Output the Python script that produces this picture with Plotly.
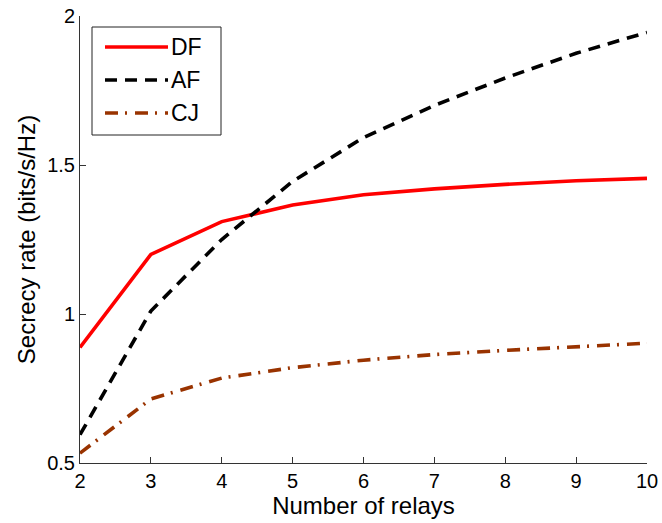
import plotly.graph_objects as go

relays = [2, 3, 4, 5, 6, 7, 8, 9, 10]
df_rate = [0.888, 1.200, 1.310, 1.366, 1.400, 1.420, 1.435, 1.447, 1.455]
af_rate = [0.595, 1.010, 1.250, 1.445, 1.592, 1.700, 1.792, 1.875, 1.945]
cj_rate = [0.533, 0.715, 0.785, 0.820, 0.845, 0.864, 0.878, 0.890, 0.902]

series_names = ["DF", "AF", "CJ"]
x_ticks = [2, 3, 4, 5, 6, 7, 8, 9, 10]
y_ticks = [0.5, 1, 1.5, 2]
y_tick_labels = ["0.5", "1", "1.5", "2"]

colors = ["#ff0000", "#000000", "#993300"]
dashes = ["solid", "12px,8px", "13px,7px,2px,8px"]

FONT = "Liberation Sans, Arial, Helvetica, sans-serif"
LW = 3.6

fig = go.Figure()
for name, ys, c, d in zip(series_names, [df_rate, af_rate, cj_rate], colors, dashes):
    fig.add_trace(go.Scatter(x=relays, y=ys, mode="lines", name=name,
                             line=dict(color=c, width=LW, dash=d),
                             showlegend=False))

W, H = 662, 523
ml, mr, mt, mb = 80, 15, 16, 60
pw, ph = W - ml - mr, H - mt - mb

def px(xp):
    return (xp - ml) / pw

def py(yp):
    return 1 - (yp - mt) / ph

# custom legend box
shapes = [dict(type="rect", xref="paper", yref="paper",
               x0=px(92), x1=px(221), y0=py(135), y1=py(27),
               line=dict(color="#222222", width=1), fillcolor="white", layer="above")]
annotations = []
rows = [47, 80, 113]
for name, c, d, yr in zip(series_names, colors, dashes, rows):
    shapes.append(dict(type="line", xref="paper", yref="paper",
                       x0=px(105), x1=px(168), y0=py(yr), y1=py(yr),
                       line=dict(color=c, width=LW, dash=d), layer="above"))
    annotations.append(dict(xref="paper", yref="paper", x=px(169), y=py(yr),
                            text=name, showarrow=False, xanchor="left", yanchor="middle",
                            font=dict(family=FONT, size=23, color="black")))

fig.update_layout(
    width=W, height=H,
    margin=dict(l=ml, r=mr, t=mt, b=mb),
    paper_bgcolor="white", plot_bgcolor="white",
    font=dict(family=FONT, size=20, color="black"),
    shapes=shapes, annotations=annotations,
    xaxis=dict(range=[2, 10], tickvals=x_ticks, ticks="inside", ticklen=6,
               tickcolor="#333333", showline=True, linecolor="#333333", linewidth=1,
               showgrid=False, zeroline=False, mirror=False, automargin=False,
               tickfont=dict(family=FONT, size=20, color="black"),
               title=dict(text="Number of relays", standoff=4,
                          font=dict(family=FONT, size=24, color="black"))),
    yaxis=dict(range=[0.5, 2], tickvals=y_ticks, ticktext=y_tick_labels,
               ticks="inside", ticklen=6,
               tickcolor="#333333", showline=True, linecolor="#333333", linewidth=1,
               showgrid=False, zeroline=False, mirror=False, automargin=False,
               tickfont=dict(family=FONT, size=20, color="black"),
               title=dict(text="Secrecy rate (bits/s/Hz)", standoff=4,
                          font=dict(family=FONT, size=24, color="black"))),
)

fig.write_html("out.html", config={"displayModeBar": False},
               post_script="document.body.style.margin='0';document.body.style.overflow='hidden';")
